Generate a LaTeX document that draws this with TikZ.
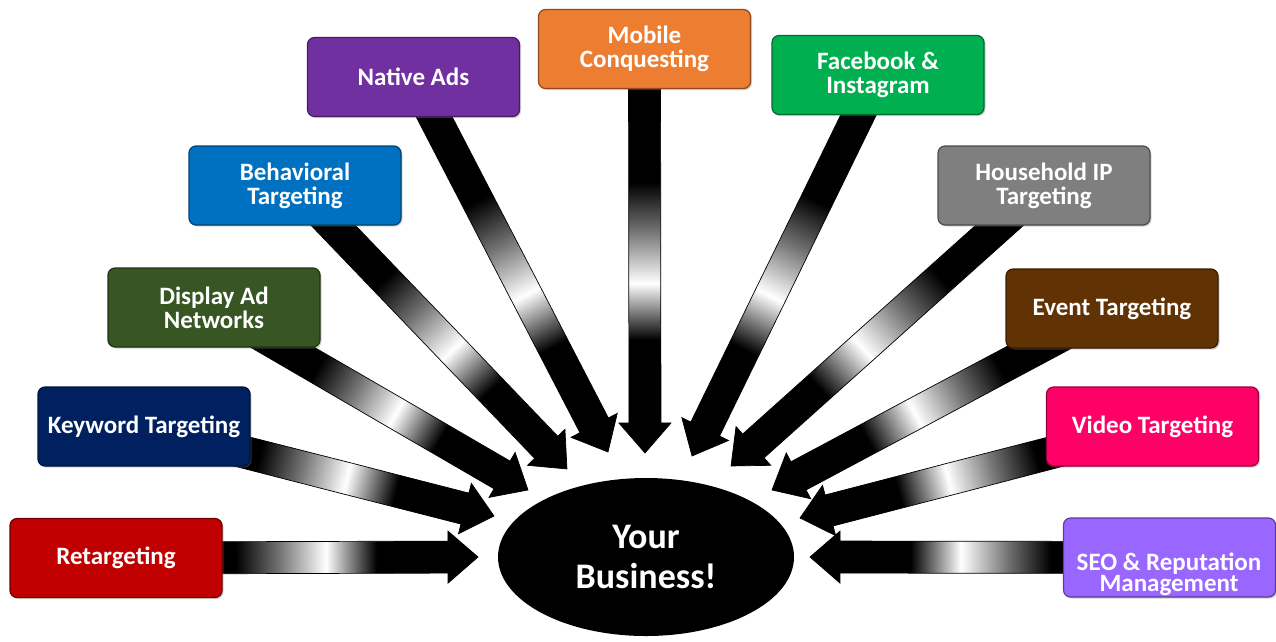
\documentclass[tikz,border=0pt]{standalone}
\usepackage{fontspec}
\setmainfont{Carlito}
\usetikzlibrary{shapes.geometric,shadows,backgrounds,calc}
\pgfdeclarehorizontalshading{arrowshade}{100bp}{color(0bp)=(black); color(41.5bp)=(black); color(47.5bp)=(black!55); color(54bp)=(white); color(57.5bp)=(black!50); color(61bp)=(black); color(100bp)=(black)}
\definecolor{cRet}{HTML}{C00000}
\definecolor{cKey}{HTML}{002060}
\definecolor{cDisp}{HTML}{375623}
\definecolor{cBeh}{HTML}{0070C0}
\definecolor{cNat}{HTML}{7030A0}
\definecolor{cMob}{HTML}{ED7D31}
\definecolor{cFb}{HTML}{00B050}
\definecolor{cHh}{HTML}{7F7F7F}
\definecolor{cEv}{HTML}{613204}
\definecolor{cVid}{HTML}{FF0066}
\definecolor{cSeo}{HTML}{9966FF}
\newcommand\fatarrow[2]{%
  \path let \p1=(#1.center), \p2=(#2),
    \n1={veclen(\x2-\x1,\y2-\y1)}, \n2={atan2(\y2-\y1,\x2-\x1)} in
    \pgfextra{\xdef\faX{\x1}\xdef\faY{\y1}\xdef\faL{\n1}\xdef\faA{\n2}};
  \pgfmathsetmacro\faXX{\faX}\pgfmathsetmacro\faYY{\faY}%
  \pgfmathsetmacro\faLL{\faL}\pgfmathsetmacro\faAA{\faA}%
  \begin{scope}[transform canvas={shift={(\faXX pt,\faYY pt)},rotate=\faAA}]
    \shade[shading=arrowshade,draw=black,line width=0.7pt,line join=miter]
      (0pt,-16pt) -- ({\faLL pt-30pt},-16pt) -- ({\faLL pt-30pt},-26pt) -- (\faLL pt,0pt)
      -- ({\faLL pt-30pt},26pt) -- ({\faLL pt-30pt},16pt) -- (0pt,16pt) -- cycle;
  \end{scope}}
\tikzset{
  box/.style={rectangle, rounded corners=7pt, minimum width=212pt, minimum height=79pt,
    text=white, font=\bfseries\fontsize{25}{24}\selectfont, align=center, line width=1.2pt,
    drop shadow={shadow xshift=1.5pt,shadow yshift=-1.5pt,opacity=0.35}},
  cbox/.style={box, fill=#1, draw=#1!60!black},
  bizstyle/.style={ellipse, fill=black, minimum width=296pt, minimum height=158pt, inner sep=0pt,
    text=white, font=\bfseries\fontsize{36}{40}\selectfont, align=center},
  seotext/.style={text=white, font=\bfseries\fontsize{25}{13}\selectfont, align=center, inner sep=0pt}
}
\begin{document}
\begin{tikzpicture}[x=1pt,y=-1pt]
\useasboundingbox (0,0) rectangle (1276,641);
\node[bizstyle] (biz) at (646,557) {Your\\Business!};
\node[cbox=cRet] (b1) at (116,558) {Retargeting};
\node[cbox=cKey] (b2) at (144,426.5) {Keyword Targeting};
\node[cbox=cDisp] (b3) at (214,307.5) {Display Ad\\Networks};
\node[cbox=cBeh] (b4) at (295,185.5) {Behavioral\\Targeting};
\node[cbox=cNat] (b5) at (413.5,77) {Native Ads};
\node[cbox=cMob] (b6) at (644.5,49) {Mobile\\Conquesting};
\node[cbox=cFb] (b7) at (878,75) {Facebook \&\\Instagram};
\node[cbox=cHh] (b8) at (1044,185.5) {Household IP\\Targeting};
\node[cbox=cEv] (b9) at (1112,308.5) {Event Targeting};
\node[cbox=cVid] (b10) at (1152.5,426.5) {Video Targeting};
\node[cbox=cSeo] (b11) at (1169.5,557.5) {};
\node[seotext] (s11) at (1169,574) {SEO \& Reputation\\Management};
\coordinate (t1) at (478,557);
\coordinate (t2) at (494,516);
\coordinate (t3) at (528,490);
\coordinate (t4) at (567,469);
\coordinate (t5) at (608,452);
\coordinate (t6) at (645,453);
\coordinate (t7) at (692,456);
\coordinate (t8) at (731,466);
\coordinate (t9) at (772,490);
\coordinate (t10) at (800,518);
\coordinate (t11) at (810,557);
\begin{pgfonlayer}{background}
\fill[white] (0,0) rectangle (1276,641);
\fatarrow{b1}{t1}
\fatarrow{b2}{t2}
\fatarrow{b3}{t3}
\fatarrow{b4}{t4}
\fatarrow{b5}{t5}
\fatarrow{b6}{t6}
\fatarrow{b7}{t7}
\fatarrow{b8}{t8}
\fatarrow{b9}{t9}
\fatarrow{b10}{t10}
\fatarrow{b11}{t11}
\end{pgfonlayer}
\end{tikzpicture}
\end{document}
